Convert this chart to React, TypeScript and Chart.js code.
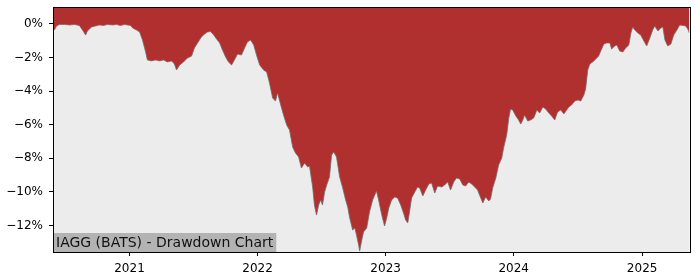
import React, { useEffect, useRef } from "react";
import { Chart, registerables } from "chart.js";

Chart.register(...registerables);

const dates: string[] = [
  "2020-05-28","2020-06-01","2020-06-07","2020-06-15","2020-06-30","2020-07-14","2020-07-28","2020-08-11","2020-08-20","2020-08-29",
  "2020-09-03","2020-09-15","2020-09-26","2020-10-07","2020-10-19","2020-10-30","2020-11-14","2020-11-25","2020-12-06","2020-12-18",
  "2021-01-04","2021-01-10","2021-01-21","2021-01-30","2021-02-07","2021-02-16","2021-02-21","2021-03-05","2021-03-16","2021-03-28",
  "2021-04-08","2021-04-19","2021-05-01","2021-05-09","2021-05-15","2021-05-24","2021-06-04","2021-06-15","2021-06-27","2021-07-05",
  "2021-07-14","2021-07-25","2021-08-03","2021-08-11","2021-08-20","2021-08-29","2021-09-06","2021-09-15","2021-09-23","2021-10-02",
  "2021-10-10","2021-10-19","2021-10-27","2021-11-05","2021-11-16","2021-11-25","2021-12-03","2021-12-12","2021-12-21","2021-12-29",
  "2022-01-07","2022-01-18","2022-01-27","2022-02-04","2022-02-13","2022-02-21","2022-02-27","2022-03-08","2022-03-16","2022-03-25",
  "2022-04-02","2022-04-11","2022-04-19","2022-04-28","2022-05-06","2022-05-15","2022-05-24","2022-05-29","2022-06-07","2022-06-12",
  "2022-06-18","2022-06-24","2022-06-30","2022-07-05","2022-07-11","2022-07-17","2022-07-25","2022-07-31","2022-08-06","2022-08-14",
  "2022-08-23","2022-08-31","2022-09-09","2022-09-15","2022-09-20","2022-09-29","2022-10-05","2022-10-10","2022-10-16","2022-10-19",
  "2022-10-25","2022-10-30","2022-11-08","2022-11-16","2022-11-25","2022-12-01","2022-12-06","2022-12-12","2022-12-18","2022-12-23",
  "2022-12-29","2023-01-04","2023-01-10","2023-01-18","2023-01-27","2023-02-04","2023-02-13","2023-02-21","2023-02-27","2023-03-05",
  "2023-03-10","2023-03-16","2023-03-25","2023-04-02","2023-04-08","2023-04-17","2023-04-25","2023-05-04","2023-05-12","2023-05-21",
  "2023-05-29","2023-06-10","2023-06-18","2023-06-27","2023-07-05","2023-07-14","2023-07-22","2023-07-31","2023-08-09","2023-08-17",
  "2023-08-26","2023-09-03","2023-09-12","2023-09-20","2023-09-29","2023-10-05","2023-10-13","2023-10-22","2023-10-27","2023-11-02",
  "2023-11-11","2023-11-19","2023-11-28","2023-12-03","2023-12-12","2023-12-18","2023-12-23","2023-12-29","2024-01-07","2024-01-15",
  "2024-01-21","2024-01-27","2024-02-01","2024-02-10","2024-02-18","2024-02-27","2024-03-07","2024-03-15","2024-03-24","2024-04-01",
  "2024-04-10","2024-04-18","2024-04-27","2024-05-05","2024-05-14","2024-05-23","2024-05-31","2024-06-06","2024-06-14","2024-06-23",
  "2024-07-02","2024-07-10","2024-07-19","2024-07-24","2024-07-30","2024-08-05","2024-08-13","2024-08-22","2024-08-30","2024-09-05",
  "2024-09-14","2024-09-22","2024-10-01","2024-10-06","2024-10-15","2024-10-21","2024-10-29","2024-11-07","2024-11-15","2024-11-24",
  "2024-11-30","2024-12-05","2024-12-11","2024-12-20","2024-12-28","2025-01-06","2025-01-14","2025-01-23","2025-01-31","2025-02-06",
  "2025-02-15","2025-02-23","2025-03-01","2025-03-07","2025-03-15","2025-03-24","2025-04-01","2025-04-10","2025-04-18","2025-04-27",
  "2025-05-05","2025-05-11","2025-05-16",
];

const drawdown: number[] = [
  -0.06,-0.36,-0.12,-0.03,-0.03,-0.06,-0.03,-0.09,-0.36,-0.66,
  -0.42,-0.18,-0.12,-0.06,-0.09,-0.03,-0.06,-0.03,-0.09,-0.03,
  -0.09,-0.24,-0.36,-0.48,-0.95,-1.67,-2.14,-2.20,-2.14,-2.20,
  -2.14,-2.26,-2.20,-2.38,-2.74,-2.44,-2.26,-2.03,-1.91,-1.43,
  -1.13,-0.77,-0.60,-0.48,-0.45,-0.66,-0.89,-1.13,-1.55,-1.97,
  -2.26,-2.44,-2.14,-1.79,-1.85,-1.43,-1.07,-0.95,-1.25,-1.85,
  -2.44,-2.74,-2.86,-3.51,-4.41,-4.59,-4.11,-4.82,-5.42,-6.02,
  -6.31,-7.33,-7.68,-7.92,-8.58,-8.28,-8.52,-8.46,-9.71,-10.78,
  -11.38,-10.78,-10.48,-10.78,-10.01,-9.59,-9.11,-7.80,-7.62,-7.92,
  -9.11,-9.71,-10.48,-10.90,-11.49,-12.27,-12.15,-12.57,-13.16,-13.52,
  -12.86,-12.39,-12.15,-11.20,-10.48,-10.18,-9.95,-10.48,-11.08,-11.55,
  -12.03,-11.55,-10.96,-10.48,-10.30,-10.36,-10.78,-11.26,-11.67,-11.85,
  -11.20,-10.36,-10.01,-9.71,-9.77,-10.24,-9.89,-9.53,-9.47,-10.07,
  -9.65,-9.71,-9.59,-9.41,-9.89,-9.41,-9.17,-9.23,-9.59,-9.65,
  -9.41,-9.53,-9.71,-9.89,-10.36,-10.66,-10.30,-10.54,-10.42,-9.77,
  -9.17,-8.40,-7.98,-7.39,-6.61,-5.60,-5.06,-5.12,-5.48,-5.72,
  -5.96,-5.72,-5.42,-5.78,-5.72,-5.60,-5.12,-5.30,-4.94,-5.06,
  -5.30,-5.48,-5.72,-5.24,-5.12,-5.36,-5.12,-4.94,-4.82,-4.59,
  -4.53,-4.59,-4.23,-3.87,-2.74,-2.38,-2.26,-2.08,-1.91,-1.61,
  -1.19,-1.13,-1.13,-1.49,-1.31,-1.25,-1.61,-1.67,-1.43,-1.25,
  -0.54,-0.18,-0.36,-0.54,-0.66,-1.01,-1.31,-0.83,-0.36,-0.12,
  -0.42,-0.24,-0.18,-0.95,-1.31,-1.19,-0.66,-0.36,-0.06,-0.09,
  -0.12,-0.30,-0.54,
];

const yearTicks: number[] = [2021, 2022, 2023, 2024, 2025];
const yTicks: number[] = [0, -2, -4, -6, -8, -10, -12];
const yMin = -13.58;
const yMax = 1.01;
const title = "IAGG (BATS) - Drawdown Chart";

const FONT = "'DejaVu Sans', sans-serif";

export default function App() {
  const ref = useRef<HTMLCanvasElement | null>(null);

  useEffect(() => {
    document.body.style.margin = "0";
    const canvas = ref.current;
    if (!canvas) return;

    const points = dates.map((d, i) => ({ x: Date.parse(d), y: drawdown[i] }));

    const framePlugin = {
      id: "frame",
      beforeDatasetsDraw(chart: any) {
        const { ctx, chartArea: a } = chart;
        ctx.save();
        ctx.fillStyle = "#ececec";
        ctx.fillRect(a.left, a.top, a.right - a.left, a.bottom - a.top);
        ctx.restore();
      },
      afterDatasetsDraw(chart: any) {
        const { ctx, chartArea: a } = chart;
        ctx.save();
        ctx.font = `14px ${FONT}`;
        const w = ctx.measureText(title).width;
        ctx.fillStyle = "#b3b3b3";
        ctx.fillRect(a.left, a.bottom - 19, w + 6, 19);
        ctx.fillStyle = "#111";
        ctx.textBaseline = "alphabetic";
        ctx.textAlign = "left";
        ctx.fillText(title, a.left + 3, a.bottom - 5.5);
        ctx.restore();
      },
      afterDraw(chart: any) {
        const { ctx, chartArea: a } = chart;
        ctx.save();
        ctx.strokeStyle = "#000";
        ctx.lineWidth = 1;
        ctx.strokeRect(
          Math.round(a.left) + 0.5,
          Math.round(a.top) + 0.5,
          Math.round(a.right) - Math.round(a.left),
          Math.round(a.bottom) - Math.round(a.top)
        );
        ctx.restore();
      },
    };

    const chart = new Chart(canvas, {
      type: "line",
      data: {
        datasets: [
          {
            data: points,
            fill: "end",
            backgroundColor: "rgb(176,48,48)",
            borderColor: "rgba(110,110,110,0.8)",
            borderWidth: 1,
            pointRadius: 0,
            tension: 0,
          },
        ],
      },
      options: {
        animation: false,
        responsive: false,
        maintainAspectRatio: false,
        layout: { padding: { top: 7, right: 10.5, left: 0, bottom: 0 } },
        plugins: {
          legend: { display: false },
          tooltip: { enabled: false },
        },
        scales: {
          x: {
            type: "linear",
            min: Date.parse(dates[0]),
            max: Date.parse(dates[dates.length - 1]),
            afterBuildTicks: (scale: any) => {
              scale.ticks = yearTicks.map((y) => ({ value: Date.UTC(y, 0, 1) }));
            },
            afterFit: (scale: any) => {
              scale.height = 28;
              scale.paddingLeft = 0;
              scale.paddingRight = 0;
            },
            border: { display: false },
            grid: {
              display: true,
              drawOnChartArea: false,
              drawTicks: true,
              tickLength: 4,
              color: "#000",
              lineWidth: 1,
            },
            ticks: {
              autoSkip: false,
              maxRotation: 0,
              padding: 6,
              color: "#000",
              font: { family: FONT, size: 12 },
              callback: (v: any) => String(new Date(v).getUTCFullYear()),
            },
          },
          y: {
            type: "linear",
            min: yMin,
            max: yMax,
            afterBuildTicks: (scale: any) => {
              scale.ticks = yTicks.map((v) => ({ value: v }));
            },
            afterFit: (scale: any) => {
              scale.width = 53;
              scale.paddingTop = 0;
              scale.paddingBottom = 0;
            },
            border: { display: false },
            grid: {
              display: true,
              drawOnChartArea: false,
              drawTicks: true,
              tickLength: 4,
              color: "#000",
              lineWidth: 1,
            },
            ticks: {
              padding: 6,
              color: "#000",
              font: { family: FONT, size: 12 },
              callback: (v: any) =>
                (v < 0 ? "\u2212" + Math.abs(v) : String(v)) + "%",
            },
          },
        },
      },
      plugins: [framePlugin],
    } as any);

    return () => chart.destroy();
  }, []);

  return <canvas ref={ref} width={700} height={280} style={{ display: "block" }} />;
}
